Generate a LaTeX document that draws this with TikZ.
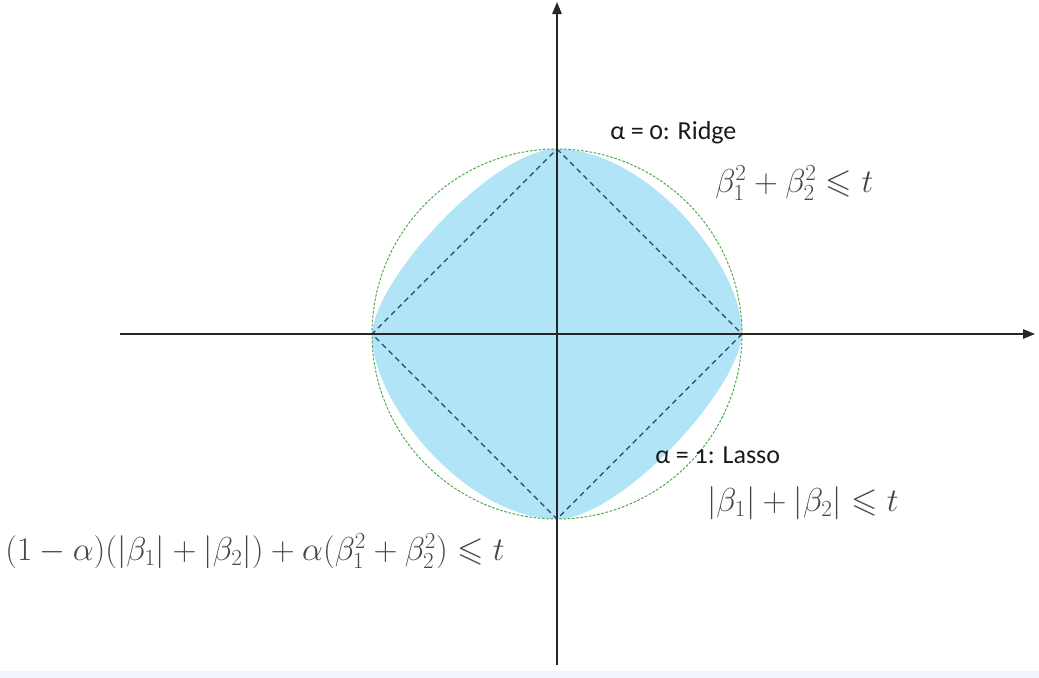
\documentclass[tikz,border=0pt]{standalone}
\usepackage{amsmath}
\usepackage{amssymb}
\usepackage{fontspec}
\setmainfont{Carlito}[Numbers=OldStyle]
\usetikzlibrary{arrows.meta}

\definecolor{ballblue}{RGB}{178,228,248}
\definecolor{ringgreen}{RGB}{70,165,70}
\definecolor{diamondline}{RGB}{40,70,100}
\definecolor{stripblue}{RGB}{240,245,253}

\begin{document}
\begin{tikzpicture}[x=0.75pt, y=-0.75pt,
  axis/.style={line width=1.4pt, draw=black!85, -{Triangle[length=9pt, width=7pt]}},
  ring/.style={draw=ringgreen, line width=0.7pt, dash pattern=on 2pt off 1.2pt},
  lassoline/.style={draw=diamondline, line width=1pt, dash pattern=on 4pt off 3pt},
  tag/.style={text=black!90, font=\fontsize{19.5}{22}\selectfont, inner sep=0pt},
  formula/.style={text=black!72, font=\fontsize{25.5}{28}\selectfont, inner sep=0pt}]
\useasboundingbox (0,0) rectangle (1039,678);
\fill[stripblue] (0,671) rectangle (1039,678);
\coordinate (O) at (557,334);
\coordinate (T) at (557,149);
\coordinate (R) at (742,334);
\coordinate (B) at (557,519);
\coordinate (L) at (372,334);
% elastic net ball
\fill[ballblue] (T) .. controls ++(88,0) and ++(0,-72) .. (R)
  .. controls ++(-3,56) and ++(63,0) .. (B)
  .. controls ++(-88,0) and ++(0,72) .. (L)
  .. controls ++(3,-56) and ++(-63,0) .. (T) -- cycle;
\draw[ring] (O) circle[radius=185];
\draw[lassoline] (T) -- (R) -- (B) -- (L) -- cycle;
% axes
\draw[axis] (120,334) -- (1035,334);
\draw[axis] (557,665) -- (557,2);
% labels
\node[tag, anchor=west] (ridge) at (610,133) {α = 0: Ridge};
\node[formula, anchor=west] (ridgeeq) at (715,183) {$\beta_1^2+\beta_2^2\leqslant t$};
\node[tag, anchor=west] (lasso) at (655,455) {α = 1: Lasso};
\node[formula, anchor=west] (lassoeq) at (707,503) {$|\beta_1|+|\beta_2|\leqslant t$};
\node[formula, anchor=west] (neteq) at (5,551) {$(1-\alpha)(|\beta_1|+|\beta_2|)+\alpha(\beta_1^2+\beta_2^2)\leqslant t$};
\end{tikzpicture}
\end{document}
